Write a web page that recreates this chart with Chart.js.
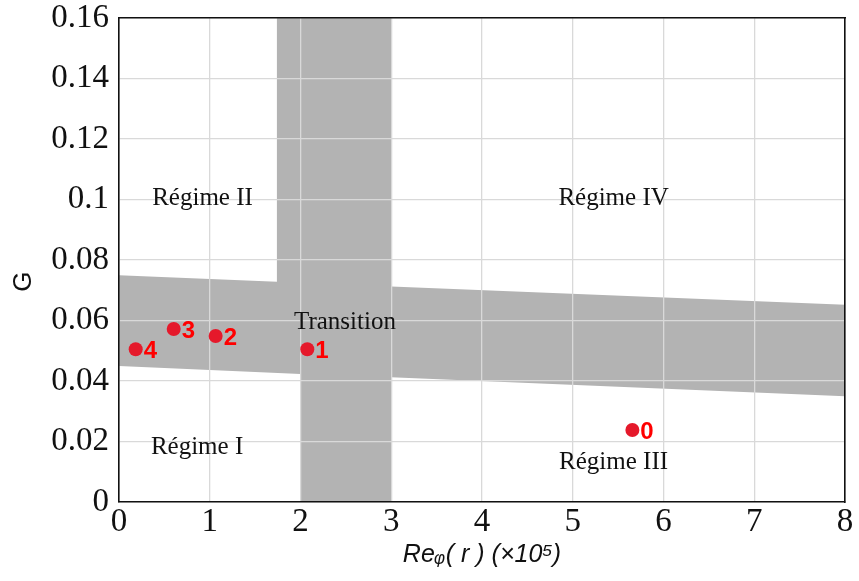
<!DOCTYPE html>
<html><head><meta charset="utf-8">
<style>html,body{margin:0;padding:0;background:#fff}</style>
<script src="https://cdn.jsdelivr.net/npm/chart.js@4/dist/chart.umd.min.js"></script>
</head><body>
<canvas id="c" width="859" height="581"></canvas>
<script>
const xTicks = [0, 1, 2, 3, 4, 5, 6, 7, 8];
const yTicks = [0, 0.02, 0.04, 0.06, 0.08, 0.1, 0.12, 0.14, 0.16];
const bandX = [0, 1.74, 1.74, 3.0, 3.0, 8, 8, 3.0, 3.0, 2.0, 2.0, 0, 0];
const bandY = [0.075, 0.0728, 0.16, 0.16, 0.0712, 0.0652, 0.035, 0.0412, 0, 0, 0.0423, 0.045, 0.075];
const pointNames = ['0', '1', '2', '3', '4'];
const pointX = [5.657, 2.075, 1.065, 0.603, 0.184];
const pointY = [0.0238, 0.0505, 0.0549, 0.0572, 0.0505];
const regionNames = ['Régime I', 'Régime II', 'Régime III', 'Régime IV', 'Transition'];
const regionX = [0.86, 0.92, 5.45, 5.45, 2.49];
const regionY = [0.0182, 0.1002, 0.0132, 0.1002, 0.0595];
const xTitle = 'Reᵩ( r ) (×10⁵)';
const yTitle = 'G      ';

const SERIF = '"Liberation Serif", "DejaVu Serif", serif';
const SANS = '"Liberation Sans", Arial, sans-serif';

const textPlugin = {
  id: 'textPlugin',
  afterDatasetsDraw(chart) {
    const ctx = chart.ctx, xs = chart.scales.x, ys = chart.scales.y;
    ctx.save();
    ctx.fillStyle = '#111';
    ctx.font = '25px ' + SERIF;
    ctx.textAlign = 'center';
    ctx.textBaseline = 'middle';
    regionNames.forEach((t, i) => {
      ctx.fillText(t, xs.getPixelForValue(regionX[i]), ys.getPixelForValue(regionY[i]));
    });
    ctx.fillStyle = '#ff0000';
    ctx.font = 'bold 24px ' + SANS;
    ctx.textAlign = 'left';
    pointNames.forEach((t, i) => {
      ctx.fillText(t, xs.getPixelForValue(pointX[i]) + 8, ys.getPixelForValue(pointY[i]) + 2);
    });
    ctx.restore();
  }
};

const fmt = v => String(+Number(v).toFixed(2));
const noPad = s => { s.paddingTop = 0; s.paddingBottom = 0; s.paddingLeft = 0; s.paddingRight = 0; };

new Chart(document.getElementById('c'), {
  type: 'scatter',
  data: {
    datasets: [
      {
        label: 'band',
        data: bandX.map((x, i) => ({x, y: bandY[i]})),
        showLine: true,
        fill: 'shape',
        backgroundColor: '#b3b3b3',
        borderWidth: 0,
        borderColor: 'rgba(0,0,0,0)',
        pointRadius: 0,
        tension: 0
      },
      {
        label: 'points',
        data: pointX.map((x, i) => ({x, y: pointY[i]})),
        showLine: false,
        pointRadius: 7,
        pointHoverRadius: 7,
        pointBackgroundColor: '#e5192b',
        pointBorderWidth: 0
      }
    ]
  },
  options: {
    responsive: false,
    animation: false,
    layout: {padding: {left: 0, right: 14, top: 18, bottom: 0}},
    plugins: {
      legend: {display: false},
      tooltip: {enabled: false},
      filler: {drawTime: 'beforeDraw'}
    },
    scales: {
      x: {
        type: 'linear', position: 'bottom', min: 0, max: 8,
        afterBuildTicks: s => { s.ticks = xTicks.map(v => ({value: v})); },
        ticks: {font: {family: SERIF, size: 33}, color: '#111', padding: 1, callback: fmt, maxRotation: 0},
        grid: {color: '#d9d9d9', lineWidth: 1.3, drawTicks: false},
        border: {color: '#111', width: 1.6},
        title: {display: true, text: xTitle, font: {family: SANS, size: 25, style: 'italic'}, color: '#111', padding: {top: 0, bottom: 11}},
        afterFit: s => { s.height = 79; noPad(s); }
      },
      y: {
        type: 'linear', position: 'left', min: 0, max: 0.16,
        afterBuildTicks: s => { s.ticks = yTicks.map(v => ({value: v})); },
        ticks: {font: {family: SERIF, size: 33}, color: '#111', padding: 10, callback: fmt},
        grid: {color: '#d9d9d9', lineWidth: 1.3, drawTicks: false},
        border: {color: '#111', width: 1.6},
        title: {display: true, text: yTitle, font: {family: SANS, size: 26}, color: '#111', padding: {top: 8, bottom: 0}},
        afterFit: s => { s.width = 119; noPad(s); }
      },
      x2: {
        type: 'linear', position: 'top', min: 0, max: 8,
        ticks: {display: false},
        grid: {display: false, drawTicks: false},
        border: {display: true, color: '#111', width: 1.6},
        afterFit: s => { s.height = 0; noPad(s); }
      },
      y2: {
        type: 'linear', position: 'right', min: 0, max: 0.16,
        ticks: {display: false},
        grid: {display: false, drawTicks: false},
        border: {display: true, color: '#111', width: 1.6},
        afterFit: s => { s.width = 0; noPad(s); }
      }
    }
  },
  plugins: [textPlugin]
});
</script>
</body></html>
